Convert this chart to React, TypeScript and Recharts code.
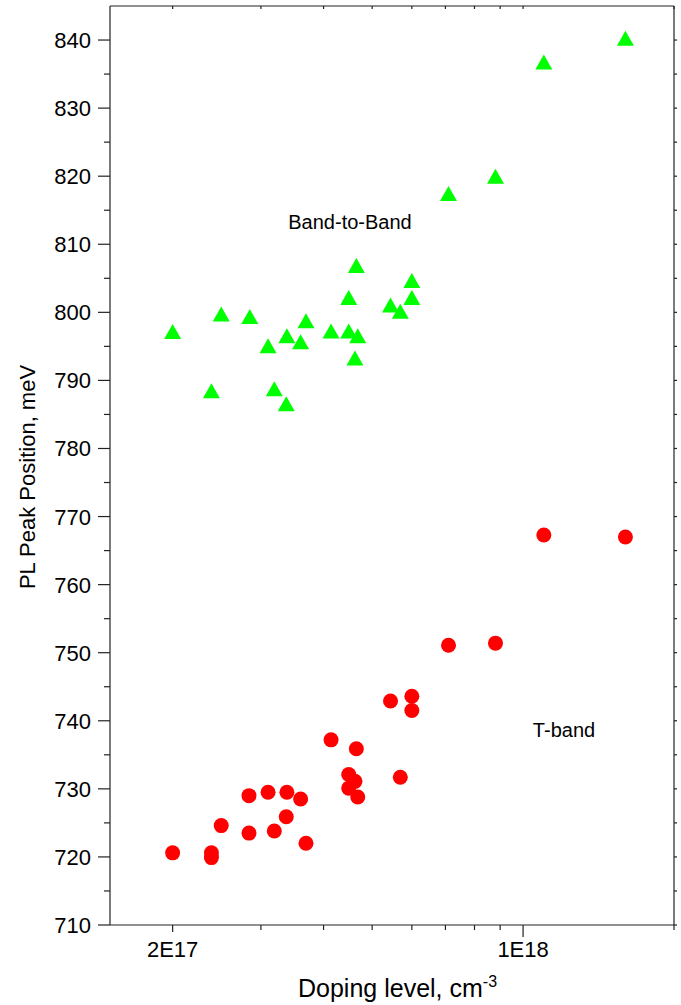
import React from "react";
import { ScatterChart, Scatter, XAxis, YAxis } from "recharts";

// Doping level (cm^-3) and PL peak position (meV)
const bandX = [
  2.0e17, 2.39e17, 2.5e17, 2.85e17, 3.1e17, 3.19e17, 3.37e17, 3.38e17, 3.6e17, 3.69e17,
  4.14e17, 4.49e17, 4.49e17, 4.65e17, 4.68e17, 4.62e17, 5.44e17, 5.69e17, 6.0e17, 6.0e17,
  7.1e17, 8.81e17, 1.1e18, 1.6e18,
];
const bandY = [
  797.1, 788.4, 799.7, 799.3, 795.0, 788.7, 786.5, 796.5, 795.6, 798.7,
  797.2, 797.2, 802.1, 806.8, 796.5, 793.2, 801.0, 800.1, 804.6, 802.1,
  817.4, 819.9, 836.7, 840.2,
];

const tbandX = [
  2.0e17, 2.39e17, 2.39e17, 2.5e17, 2.84e17, 2.84e17, 3.1e17, 3.19e17, 3.38e17, 3.37e17,
  3.6e17, 3.69e17, 4.14e17, 4.49e17, 4.49e17, 4.62e17, 4.65e17, 4.68e17, 5.44e17, 5.69e17,
  6.0e17, 6.0e17, 7.1e17, 8.81e17, 1.1e18, 1.6e18,
];
const tbandY = [
  720.6, 720.6, 719.9, 724.6, 729.0, 723.5, 729.5, 723.8, 729.5, 725.9,
  728.5, 722.0, 737.2, 732.1, 730.1, 731.1, 735.9, 728.8, 742.9, 731.7,
  743.6, 741.5, 751.1, 751.4, 767.3, 767.0,
];

const xTicks = [2e17, 3e17, 4e17, 5e17, 6e17, 7e17, 8e17, 9e17, 1e18, 2e18];
const xTickLabels = ["2E17", "", "", "", "", "", "", "", "1E18", ""];
const xTickLens = [7, 5, 5, 5, 5, 5, 5, 5, 12, 5];

const yTicks = [
  710, 715, 720, 725, 730, 735, 740, 745, 750, 755, 760, 765, 770, 775,
  780, 785, 790, 795, 800, 805, 810, 815, 820, 825, 830, 835, 840,
];

const FONT = "'Liberation Sans', Arial, sans-serif";
const AXIS = "#222";

const bandData = bandX.map((x, i) => ({ x, y: bandY[i] }));
const tbandData = tbandX.map((x, i) => ({ x, y: tbandY[i] }));

const BottomTick = (props: any) => {
  const { x, y, index } = props;
  const label = xTickLabels[index];
  return (
    <g>
      <line x1={x} y1={y} x2={x} y2={y + xTickLens[index]} stroke={AXIS} strokeWidth={1.2} />
      {label && (
        <text x={x} y={y + 32} textAnchor="middle" fontSize={22} fontFamily={FONT} fill="#000">
          {label}
        </text>
      )}
    </g>
  );
};

const TopTick = (props: any) => {
  const { x, y } = props;
  return <line x1={x} y1={y} x2={x} y2={y + 3} stroke={AXIS} strokeWidth={1.2} />;
};

const LeftTick = (props: any) => {
  const { x, y, payload } = props;
  const major = payload.value % 10 === 0;
  return (
    <g>
      <line x1={x} y1={y} x2={x - (major ? 12 : 6)} y2={y} stroke={AXIS} strokeWidth={1.2} />
      {major && (
        <text x={x - 19} y={y + 8} textAnchor="end" fontSize={22} fontFamily={FONT} fill="#000">
          {payload.value}
        </text>
      )}
    </g>
  );
};

const RightTick = (props: any) => {
  const { x, y } = props;
  return <line x1={x} y1={y} x2={x + 3} y2={y} stroke={AXIS} strokeWidth={1.2} />;
};

const Triangle = (props: any) => {
  const { cx, cy } = props;
  return (
    <polygon
      points={`${cx},${cy - 8} ${cx - 8.5},${cy + 7} ${cx + 8.5},${cy + 7}`}
      fill="#00ff00"
    />
  );
};

const Dot = (props: any) => {
  const { cx, cy } = props;
  return <circle cx={cx} cy={cy} r={7.5} fill="#ff0000" />;
};

const XTitle = () => (
  <text x={298} y={997} fontSize={25} fontFamily={FONT} fill="#000">
    Doping level, cm
    <tspan dy={-10} fontSize={16}>-3</tspan>
  </text>
);

const YTitle = () => (
  <text
    x={35}
    y={477}
    transform="rotate(-90 35 477)"
    textAnchor="middle"
    fontSize={22}
    fontFamily={FONT}
    fill="#000"
  >
    PL Peak Position, meV
  </text>
);

const Annotations = () => (
  <g fontFamily={FONT} fontSize={20} fill="#000">
    <text x={350} y={229} textAnchor="middle">Band-to-Band</text>
    <text x={564} y={737} textAnchor="middle">T-band</text>
  </g>
);

export default function App() {
  return (
    <div style={{ position: "absolute", left: 0, top: 0, width: 681, height: 1005, background: "#fff" }}>
      <ScatterChart width={681} height={1005} margin={{ top: 0, right: 0, bottom: 0, left: 0 }}>
        <XAxis
          xAxisId="b"
          dataKey="x"
          type="number"
          scale="log"
          domain={[1.5e17, 2e18]}
          allowDataOverflow
          ticks={xTicks}
          interval={0}
          height={80}
          tickSize={0}
          tickMargin={0}
          tick={<BottomTick />}
          tickLine={false}
          axisLine={{ stroke: AXIS, strokeWidth: 1.2 }}
          label={<XTitle />}
        />
        <XAxis
          xAxisId="t"
          orientation="top"
          dataKey="x"
          type="number"
          scale="log"
          domain={[1.5e17, 2e18]}
          allowDataOverflow
          ticks={xTicks}
          interval={0}
          height={6}
          tickSize={0}
          tickMargin={0}
          tick={<TopTick />}
          tickLine={false}
          axisLine={{ stroke: AXIS, strokeWidth: 1.2 }}
          label={<Annotations />}
        />
        <YAxis
          yAxisId="l"
          dataKey="y"
          type="number"
          domain={[710, 845]}
          allowDataOverflow
          ticks={yTicks}
          interval={0}
          width={110}
          tickSize={0}
          tickMargin={0}
          tick={<LeftTick />}
          tickLine={false}
          axisLine={{ stroke: AXIS, strokeWidth: 1.2 }}
          label={<YTitle />}
        />
        <YAxis
          yAxisId="r"
          orientation="right"
          dataKey="y"
          type="number"
          domain={[710, 845]}
          allowDataOverflow
          ticks={yTicks}
          interval={0}
          width={7}
          tickSize={0}
          tickMargin={0}
          tick={<RightTick />}
          tickLine={false}
          axisLine={{ stroke: AXIS, strokeWidth: 1.2 }}
        />
        <Scatter
          xAxisId="b"
          yAxisId="l"
          data={bandData}
          shape={<Triangle />}
          isAnimationActive={false}
        />
        <Scatter
          xAxisId="b"
          yAxisId="l"
          data={tbandData}
          shape={<Dot />}
          isAnimationActive={false}
        />
      </ScatterChart>
    </div>
  );
}
